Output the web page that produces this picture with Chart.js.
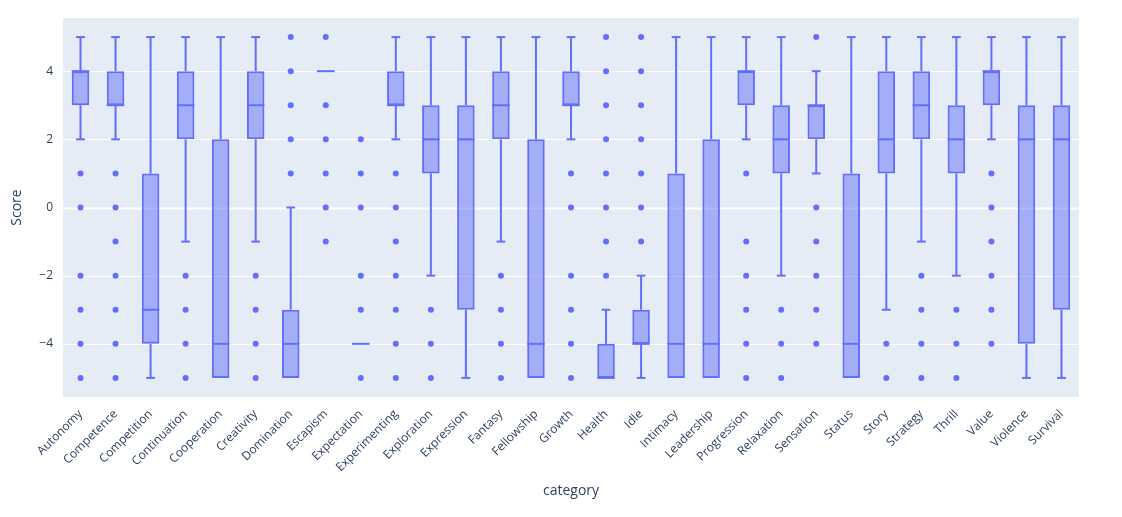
<!DOCTYPE html>
<html>
<head>
<meta charset="utf-8">
<script src="https://cdn.jsdelivr.net/npm/chart.js@4/dist/chart.umd.min.js"></script>
<style>
  html, body { margin: 0; padding: 0; background: #fff; }
  #wrap { width: 1122px; height: 517px; position: relative; }
</style>
</head>
<body>
<div id="wrap"><canvas id="grafica"></canvas></div>
<script>
// categorias y estadisticos de cada caja
const categories = ['Autonomy','Competence','Competition','Continuation','Cooperation','Creativity','Domination','Escapism','Expectation','Experimenting','Exploration','Expression','Fantasy','Fellowship','Growth','Health','Idle','Intimacy','Leadership','Progression','Relaxation','Sensation','Status','Story','Strategy','Thrill','Value','Violence','Survival'];
const q1      = [3, 3, -4, 2, -5, 2, -5, 4, -4, 3, 1, -3, 2, -5, 3, -5, -4, -5, -5, 3, 1, 2, -5, 1, 2, 1, 3, -4, -3];
const medians = [4, 3, -3, 3, -4, 3, -4, 4, -4, 3, 2, 2, 3, -4, 3, -5, -4, -4, -4, 4, 2, 3, -4, 2, 3, 2, 4, 2, 2];
const q3      = [4, 4, 1, 4, 2, 4, -3, 4, -4, 4, 3, 3, 4, 2, 4, -4, -3, 1, 2, 4, 3, 3, 1, 4, 4, 3, 4, 3, 3];
const lowerWhisker = [2, 2, -5, -1, -5, -1, -5, 4, -4, 2, -2, -5, -1, -5, 2, -5, -5, -5, -5, 2, -2, 1, -5, -3, -1, -2, 2, -5, -5];
const upperWhisker = [5, 5, 5, 5, 5, 5, 0, 4, -4, 5, 5, 5, 5, 5, 5, -3, -2, 5, 5, 5, 5, 4, 5, 5, 5, 5, 5, 5, 5];
const outliers = [
  [1, 0, -2, -3, -4, -5],
  [1, 0, -1, -2, -3, -4, -5],
  [],
  [-2, -3, -4, -5],
  [],
  [-2, -3, -4, -5],
  [1, 2, 3, 4, 5],
  [5, 3, 2, 1, 0, -1],
  [2, 1, 0, -2, -3, -5],
  [1, 0, -1, -2, -3, -4, -5],
  [-3, -4, -5],
  [],
  [-2, -3, -4, -5],
  [],
  [1, 0, -2, -3, -4, -5],
  [5, 4, 3, 2, 1, 0, -1, -2],
  [5, 4, 3, 2, 1, 0, -1],
  [],
  [],
  [1, -1, -2, -3, -4, -5],
  [-3, -4, -5],
  [5, 0, -1, -2, -3, -4],
  [],
  [-4, -5],
  [-2, -3, -4, -5],
  [-3, -4, -5],
  [1, 0, -1, -2, -3, -4],
  [],
  []
];
const yTicks = [-4, -2, 0, 2, 4];

const lineColor = '#636efa';
const fillColor = 'rgba(99,110,250,0.5)';
const textColor = '#2a3f5f';
const fontFamily = '"Open Sans", "Noto Sans", sans-serif';

const outlierPoints = [];
categories.forEach((c, i) => {
  outliers[i].forEach(v => outlierPoints.push({ x: c, y: v }));
});

// fondo, rejilla, bigotes y medianas
const boxExtras = {
  id: 'boxExtras',
  beforeDatasetsDraw(chart) {
    const { ctx, chartArea: a } = chart;
    const xs = chart.scales.x, ys = chart.scales.y;
    ctx.save();
    ctx.fillStyle = '#E5ECF6';
    ctx.fillRect(xs.left, a.top, xs.right - xs.left, a.bottom - a.top);
    ctx.strokeStyle = '#ffffff';
    yTicks.forEach(v => {
      const y = Math.round(ys.getPixelForValue(v)) + 0.5;
      ctx.lineWidth = v === 0 ? 2 : 1;
      ctx.beginPath(); ctx.moveTo(xs.left, y); ctx.lineTo(xs.right, y); ctx.stroke();
    });
    ctx.restore();
  },
  afterDatasetsDraw(chart) {
    const { ctx } = chart;
    const xs = chart.scales.x, ys = chart.scales.y;
    const bars = chart.getDatasetMeta(0).data;
    ctx.save();
    ctx.strokeStyle = lineColor;
    ctx.lineWidth = 2;
    const seg = (x1, y1, x2, y2) => { ctx.beginPath(); ctx.moveTo(x1, y1); ctx.lineTo(x2, y2); ctx.stroke(); };
    categories.forEach((c, i) => {
      const x = xs.getPixelForValue(i);
      const w = bars[i].width;
      const cap = w / 4;
      if (upperWhisker[i] > q3[i]) {
        const yw = ys.getPixelForValue(upperWhisker[i]);
        seg(x, ys.getPixelForValue(q3[i]), x, yw);
        seg(x - cap, yw, x + cap, yw);
      }
      if (lowerWhisker[i] < q1[i]) {
        const yw = ys.getPixelForValue(lowerWhisker[i]);
        seg(x, ys.getPixelForValue(q1[i]), x, yw);
        seg(x - cap, yw, x + cap, yw);
      }
      const ym = ys.getPixelForValue(medians[i]);
      seg(x - w / 2, ym, x + w / 2, ym);
    });
    ctx.restore();
  }
};

const graph = document.querySelector('#grafica');

const data = {
  labels: categories,
  datasets: [{
    type: 'bar',
    label: 'box',
    data: categories.map((c, i) => [q1[i], q3[i]]),
    backgroundColor: fillColor,
    borderColor: lineColor,
    borderWidth: 2,
    borderSkipped: false,
    barPercentage: 0.5,
    categoryPercentage: 1
  }, {
    type: 'line',
    label: 'outliers',
    data: outlierPoints,
    showLine: false,
    pointRadius: 3,
    pointBackgroundColor: lineColor,
    pointBorderWidth: 0
  }]
};

const config = {
  type: 'bar',
  data: data,
  plugins: [boxExtras],
  options: {
    responsive: true,
    maintainAspectRatio: false,
    animation: false,
    layout: { padding: { left: 0, right: 43, top: 18, bottom: 0 } },
    plugins: {
      legend: { display: false },
      tooltip: { enabled: false }
    },
    scales: {
      x: {
        grid: { display: false },
        border: { display: false },
        ticks: {
          color: textColor,
          font: { family: fontFamily, size: 12 },
          minRotation: 45,
          maxRotation: 45,
          autoSkip: false,
          padding: 2
        },
        title: {
          display: true,
          text: 'category',
          color: textColor,
          font: { family: fontFamily, size: 14 },
          padding: { top: 0, bottom: 18 }
        },
        afterFit(s) { s.height = 120; }
      },
      y: {
        min: -5.56,
        max: 5.56,
        afterBuildTicks(s) { s.ticks = yTicks.map(v => ({ value: v })); },
        grid: { display: false },
        border: { display: false },
        ticks: {
          color: textColor,
          font: { family: fontFamily, size: 12 },
          padding: 2,
          callback: v => String(v).replace('-', '\u2212')
        },
        title: {
          display: true,
          text: 'Score',
          color: textColor,
          font: { family: fontFamily, size: 14 },
          padding: { top: 9, bottom: 0 }
        },
        afterFit(s) { s.width = 63; }
      }
    }
  }
};
new Chart(graph, config);
</script>
</body>
</html>
